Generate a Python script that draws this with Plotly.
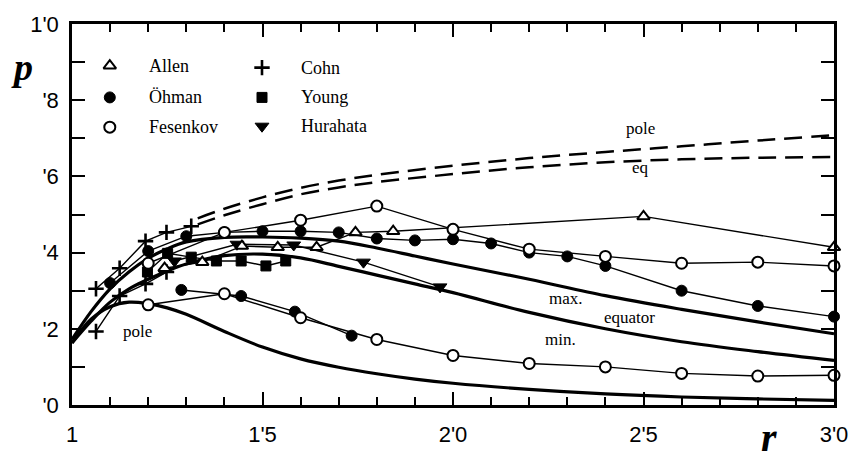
import plotly.graph_objects as go

# ---------------- data ----------------
# theoretical curves (thick solid)
r_theory = [1.0, 1.05, 1.1, 1.15, 1.2, 1.25, 1.3, 1.4, 1.5, 1.6, 1.7, 1.8, 1.9, 2.0, 2.2, 2.4, 2.6, 2.8, 3.0]
p_pole_th = [0.163, 0.225, 0.258, 0.270, 0.266, 0.255, 0.238, 0.193, 0.152, 0.121, 0.099, 0.082, 0.068, 0.057, 0.041, 0.029, 0.021, 0.016, 0.012]
p_eq_max = [0.172, 0.245, 0.305, 0.350, 0.385, 0.410, 0.428, 0.440, 0.441, 0.438, 0.430, 0.412, 0.391, 0.370, 0.330, 0.287, 0.251, 0.218, 0.187]
p_eq_min = [0.163, 0.220, 0.270, 0.305, 0.330, 0.352, 0.370, 0.392, 0.396, 0.386, 0.364, 0.341, 0.318, 0.295, 0.243, 0.200, 0.166, 0.140, 0.117]

# dashed curves
r_dash = [1.33, 1.4, 1.5, 1.6, 1.7, 1.8, 2.0, 2.2, 2.4, 2.6, 2.8, 3.0]
p_dash_pole = [0.490, 0.515, 0.545, 0.570, 0.589, 0.604, 0.628, 0.648, 0.664, 0.679, 0.694, 0.708]
p_dash_eq = [0.474, 0.498, 0.527, 0.553, 0.571, 0.585, 0.606, 0.624, 0.637, 0.645, 0.649, 0.651]

# observations
allen_r = [1.243, 1.342, 1.446, 1.54, 1.642, 1.744, 1.843, 2.5, 3.0]
allen_p = [0.359, 0.375, 0.417, 0.414, 0.414, 0.453, 0.456, 0.495, 0.414]

ohman_up_r = [1.1, 1.2, 1.3, 1.4, 1.5, 1.6, 1.7, 1.8, 1.9, 2.0, 2.1, 2.2, 2.3, 2.4, 2.6, 2.8, 3.0]
ohman_up_p = [0.320, 0.404, 0.443, 0.453, 0.456, 0.456, 0.453, 0.437, 0.432, 0.435, 0.424, 0.400, 0.390, 0.365, 0.300, 0.260, 0.232]
ohman_lo_r = [1.287, 1.444, 1.585, 1.734]
ohman_lo_p = [0.302, 0.286, 0.245, 0.182]

fes_up_r = [1.2, 1.4, 1.6, 1.8, 2.0, 2.2, 2.4, 2.6, 2.8, 3.0]
fes_up_p = [0.372, 0.453, 0.485, 0.522, 0.461, 0.409, 0.390, 0.372, 0.375, 0.365]
fes_lo_r = [1.2, 1.4, 1.6, 1.8, 2.0, 2.2, 2.4, 2.6, 2.8, 3.0]
fes_lo_p = [0.263, 0.292, 0.229, 0.172, 0.130, 0.109, 0.100, 0.083, 0.076, 0.078]

cohn_up_r = [1.063, 1.125, 1.193, 1.248, 1.313]
cohn_up_p = [0.305, 0.359, 0.430, 0.453, 0.469]
cohn_lo_r = [1.063, 1.125, 1.193, 1.248]
cohn_lo_p = [0.193, 0.286, 0.318, 0.349]

young_r = [1.198, 1.251, 1.313, 1.379, 1.444, 1.509, 1.561]
young_p = [0.349, 0.398, 0.388, 0.378, 0.378, 0.365, 0.378]

hura_r = [1.269, 1.433, 1.582, 1.765, 1.966]
hura_p = [0.378, 0.422, 0.420, 0.375, 0.310]

x_tickvals = [1, 1.5, 2, 2.5, 3]
x_ticktext = ["1", "1'5", "2'0", "2'5", "3'0"]
y_tickvals = [0, 0.2, 0.4, 0.6, 0.8, 1.0]
y_ticktext = ["'0", "'2", "'4", "'6", "'8", "1'0"]

# ---------------- styling / layout ----------------
W, H = 860, 459
L, R, T, B = 72, 838, 23, 407     # plot frame in pixels
SERIF = "Liberation Serif"
SANS = "Liberation Sans"

STY = {
    "Allen":    dict(symbol="triangle-up", size=11, color="white", line=dict(color="black", width=2)),
    "Öhman":    dict(symbol="circle", size=11, color="black", line=dict(color="black", width=1)),
    "Fesenkov": dict(symbol="circle", size=11, color="white", line=dict(color="black", width=2)),
    "Cohn":     dict(symbol="cross-thin", size=11, color="black", line=dict(color="black", width=2.6)),
    "Young":    dict(symbol="square", size=10, color="black", line=dict(color="black", width=1)),
    "Hurahata": dict(symbol="triangle-down", size=12, color="black", line=dict(color="black", width=1)),
}

fig = go.Figure()

def thick(r, p):
    fig.add_trace(go.Scatter(x=r, y=p, mode="lines", line=dict(color="black", width=3.2, shape="spline", smoothing=1.0),
                             showlegend=False, hoverinfo="skip"))

def dashed(r, p):
    fig.add_trace(go.Scatter(x=r, y=p, mode="lines", line=dict(color="black", width=2.5, dash="18px,9px", shape="spline", smoothing=1.0),
                             showlegend=False, hoverinfo="skip"))

def obs(name, r, p):
    fig.add_trace(go.Scatter(x=r, y=p, mode="lines+markers", line=dict(color="black", width=1.4),
                             marker=STY[name], showlegend=False, name=name, cliponaxis=False))

thick(r_theory, p_pole_th)
thick(r_theory, p_eq_max)
thick(r_theory, p_eq_min)
dashed(r_dash, p_dash_pole)
dashed(r_dash, p_dash_eq)

obs("Cohn", cohn_up_r, cohn_up_p)
obs("Cohn", cohn_lo_r, cohn_lo_p)
obs("Young", young_r, young_p)
obs("Hurahata", hura_r, hura_p)
obs("Allen", allen_r, allen_p)
obs("Öhman", ohman_up_r, ohman_up_p)
obs("Öhman", ohman_lo_r, ohman_lo_p)
obs("Fesenkov", fes_up_r, fes_up_p)
obs("Fesenkov", fes_lo_r, fes_lo_p)

# ---- legend drawn on an overlay axis in pixel units ----
LEG = [("Allen", 110, 65), ("Öhman", 110, 97), ("Fesenkov", 110, 127),
       ("Cohn", 263, 67), ("Young", 263, 97), ("Hurahata", 263, 126)]
for name, px, py in LEG:
    fig.add_trace(go.Scatter(x=[px], y=[py], xaxis="x2", yaxis="y2", mode="markers",
                             marker=STY[name], showlegend=False, hoverinfo="skip"))

def px2paper(px, py):
    return (px - L) / (R - L), (B - py) / (B - T)

annotations = []
for name, px, py in LEG:
    ax, ay = px2paper(px + 37, py)
    annotations.append(dict(x=ax, y=ay, xref="paper", yref="paper", text=name, showarrow=False,
                            xanchor="left", yanchor="middle", font=dict(family=SERIF, size=18, color="black")))

LABELS = [("pole", 138, 333), ("pole", 643, 128), ("eq", 643, 168), ("max.", 569, 300),
          ("equator", 632, 319), ("min.", 563, 341)]
for txt, px, py in LABELS:
    ax, ay = px2paper(px, py)
    annotations.append(dict(x=ax, y=ay, xref="paper", yref="paper", text=txt, showarrow=False,
                            xanchor="center", yanchor="middle", font=dict(family=SERIF, size=17, color="black")))

# axis titles
ax_, ay_ = px2paper(22, 66)
annotations.append(dict(x=ax_, y=ay_, xref="paper", yref="paper", text="<b><i>p</i></b>", showarrow=False,
                        xanchor="center", yanchor="middle", font=dict(family=SERIF, size=38, color="black")))
ax_, ay_ = px2paper(773, 440)
annotations.append(dict(x=ax_, y=ay_, xref="paper", yref="paper", text="<b><i>r</i></b>", showarrow=False,
                        xanchor="center", yanchor="middle", font=dict(family=SERIF, size=40, color="black")))

fig.update_layout(
    width=W, height=H,
    margin=dict(l=L, r=W - R, t=T, b=H - B),
    paper_bgcolor="white", plot_bgcolor="white",
    showlegend=False,
    annotations=annotations,
    xaxis=dict(range=[1, 3], tickvals=x_tickvals, ticktext=x_ticktext, ticks="inside", ticklen=13, tickwidth=2,
               tickcolor="black", showline=True, linecolor="black", linewidth=2.5, mirror="ticks",
               showgrid=False, zeroline=False,
               minor=dict(dtick=0.1, tick0=1, ticks="inside", ticklen=8, tickwidth=1.5, tickcolor="black", showgrid=False),
               tickfont=dict(family=SANS, size=22, color="black"), ticklabelstandoff=8),
    yaxis=dict(range=[0, 1], tickvals=y_tickvals, ticktext=y_ticktext, ticks="inside", ticklen=13, tickwidth=2,
               tickcolor="black", showline=True, linecolor="black", linewidth=2.5, mirror="ticks",
               showgrid=False, zeroline=False,
               minor=dict(dtick=0.1, tick0=0, ticks="inside", ticklen=13, tickwidth=2, tickcolor="black", showgrid=False),
               tickfont=dict(family=SANS, size=22, color="black"), ticklabelstandoff=6),
    xaxis2=dict(range=[L, R], overlaying="x", visible=False),
    yaxis2=dict(range=[B, T], overlaying="y", visible=False),
)

fig.write_html("out.html")
